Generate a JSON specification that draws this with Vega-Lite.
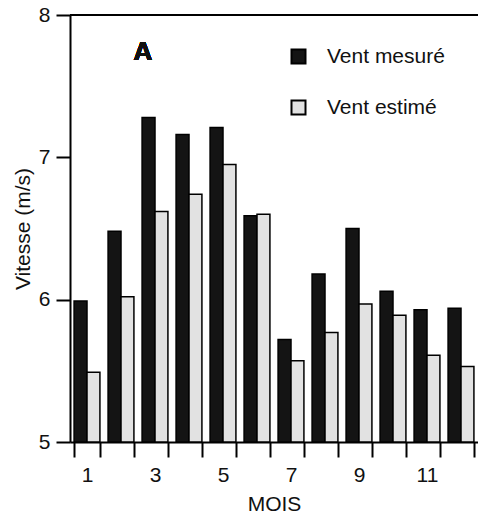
{
  "$schema": "https://vega.github.io/schema/vega-lite/v6.json",
  "width": 408,
  "height": 427,
  "autosize": {"type": "none"},
  "padding": {"left": 70, "top": 15, "right": 0, "bottom": 80},
  "background": "white",
  "config": {
    "view": {"stroke": null},
    "font": "Liberation Sans",
    "axis": {
      "domainColor": "#000",
      "domainWidth": 2,
      "tickColor": "#000",
      "tickWidth": 2,
      "labelColor": "#111",
      "titleColor": "#111",
      "labelFont": "Liberation Sans",
      "titleFont": "Liberation Sans",
      "labelFontSize": 21,
      "titleFontSize": 21,
      "titleFontWeight": "normal",
      "grid": false
    }
  },
  "data": {
    "values": [
      {"mois": 1, "serie": "Vent mesuré", "vitesse": 5.99},
      {"mois": 1, "serie": "Vent estimé", "vitesse": 5.49},
      {"mois": 2, "serie": "Vent mesuré", "vitesse": 6.48},
      {"mois": 2, "serie": "Vent estimé", "vitesse": 6.02},
      {"mois": 3, "serie": "Vent mesuré", "vitesse": 7.28},
      {"mois": 3, "serie": "Vent estimé", "vitesse": 6.62},
      {"mois": 4, "serie": "Vent mesuré", "vitesse": 7.16},
      {"mois": 4, "serie": "Vent estimé", "vitesse": 6.74},
      {"mois": 5, "serie": "Vent mesuré", "vitesse": 7.21},
      {"mois": 5, "serie": "Vent estimé", "vitesse": 6.95},
      {"mois": 6, "serie": "Vent mesuré", "vitesse": 6.59},
      {"mois": 6, "serie": "Vent estimé", "vitesse": 6.60},
      {"mois": 7, "serie": "Vent mesuré", "vitesse": 5.72},
      {"mois": 7, "serie": "Vent estimé", "vitesse": 5.57},
      {"mois": 8, "serie": "Vent mesuré", "vitesse": 6.18},
      {"mois": 8, "serie": "Vent estimé", "vitesse": 5.77},
      {"mois": 9, "serie": "Vent mesuré", "vitesse": 6.50},
      {"mois": 9, "serie": "Vent estimé", "vitesse": 5.97},
      {"mois": 10, "serie": "Vent mesuré", "vitesse": 6.06},
      {"mois": 10, "serie": "Vent estimé", "vitesse": 5.89},
      {"mois": 11, "serie": "Vent mesuré", "vitesse": 5.93},
      {"mois": 11, "serie": "Vent estimé", "vitesse": 5.61},
      {"mois": 12, "serie": "Vent mesuré", "vitesse": 5.94},
      {"mois": 12, "serie": "Vent estimé", "vitesse": 5.53}
    ]
  },
  "layer": [
    {
      "mark": {"type": "bar", "stroke": "#000", "strokeWidth": 1.5},
      "encoding": {
        "x": {
          "field": "mois",
          "type": "ordinal",
          "title": "MOIS",
          "scale": {"paddingInner": 0.24, "paddingOuter": 0.12},
          "axis": {
            "labelAngle": 0,
            "tickBand": "extent",
            "tickSize": 15,
            "labelPadding": 7,
            "titlePadding": 8,
            "labelExpr": "datum.value % 2 == 1 ? datum.label : ''"
          }
        },
        "xOffset": {"field": "serie", "sort": ["Vent mesuré", "Vent estimé"]},
        "y": {
          "field": "vitesse",
          "type": "quantitative",
          "title": "Vitesse (m/s)",
          "scale": {"domain": [5, 8], "zero": false, "nice": false},
          "axis": {
            "values": [5, 5.5, 6, 6.5, 7, 7.5, 8],
            "format": "d",
            "labelExpr": "datum.value % 1 == 0 ? datum.label : ''",
            "tickSize": {"condition": {"test": "datum.value % 1 != 0", "value": 7}, "value": 14},
            "labelPadding": 6,
            "titlePadding": 5
          }
        },
        "y2": {"datum": 5},
        "fill": {
          "field": "serie",
          "type": "nominal",
          "scale": {"domain": ["Vent mesuré", "Vent estimé"], "range": ["#141414", "#e2e2e2"]},
          "legend": {
            "title": null,
            "orient": "none",
            "legendX": 218,
            "legendY": 31,
            "symbolType": "square",
            "symbolSize": 196,
            "symbolStrokeColor": "#000",
            "symbolStrokeWidth": 2,
            "labelFontSize": 21,
            "labelFont": "Liberation Sans",
            "labelColor": "#111",
            "labelOffset": 18,
            "rowPadding": 28,
            "padding": 0
          }
        }
      }
    },
    {
      "mark": {"type": "rule", "color": "#000", "strokeWidth": 2},
      "encoding": {"y": {"datum": 8, "type": "quantitative"}}
    },
    {
      "mark": {"type": "text", "text": "A", "font": "Liberation Sans", "fontSize": 26, "fontWeight": "bold", "fill": "#111", "strokeWidth": 0, "dx": -12},
      "encoding": {"x": {"datum": 3, "type": "ordinal"}, "y": {"datum": 7.74, "type": "quantitative"}}
    }
  ]
}
